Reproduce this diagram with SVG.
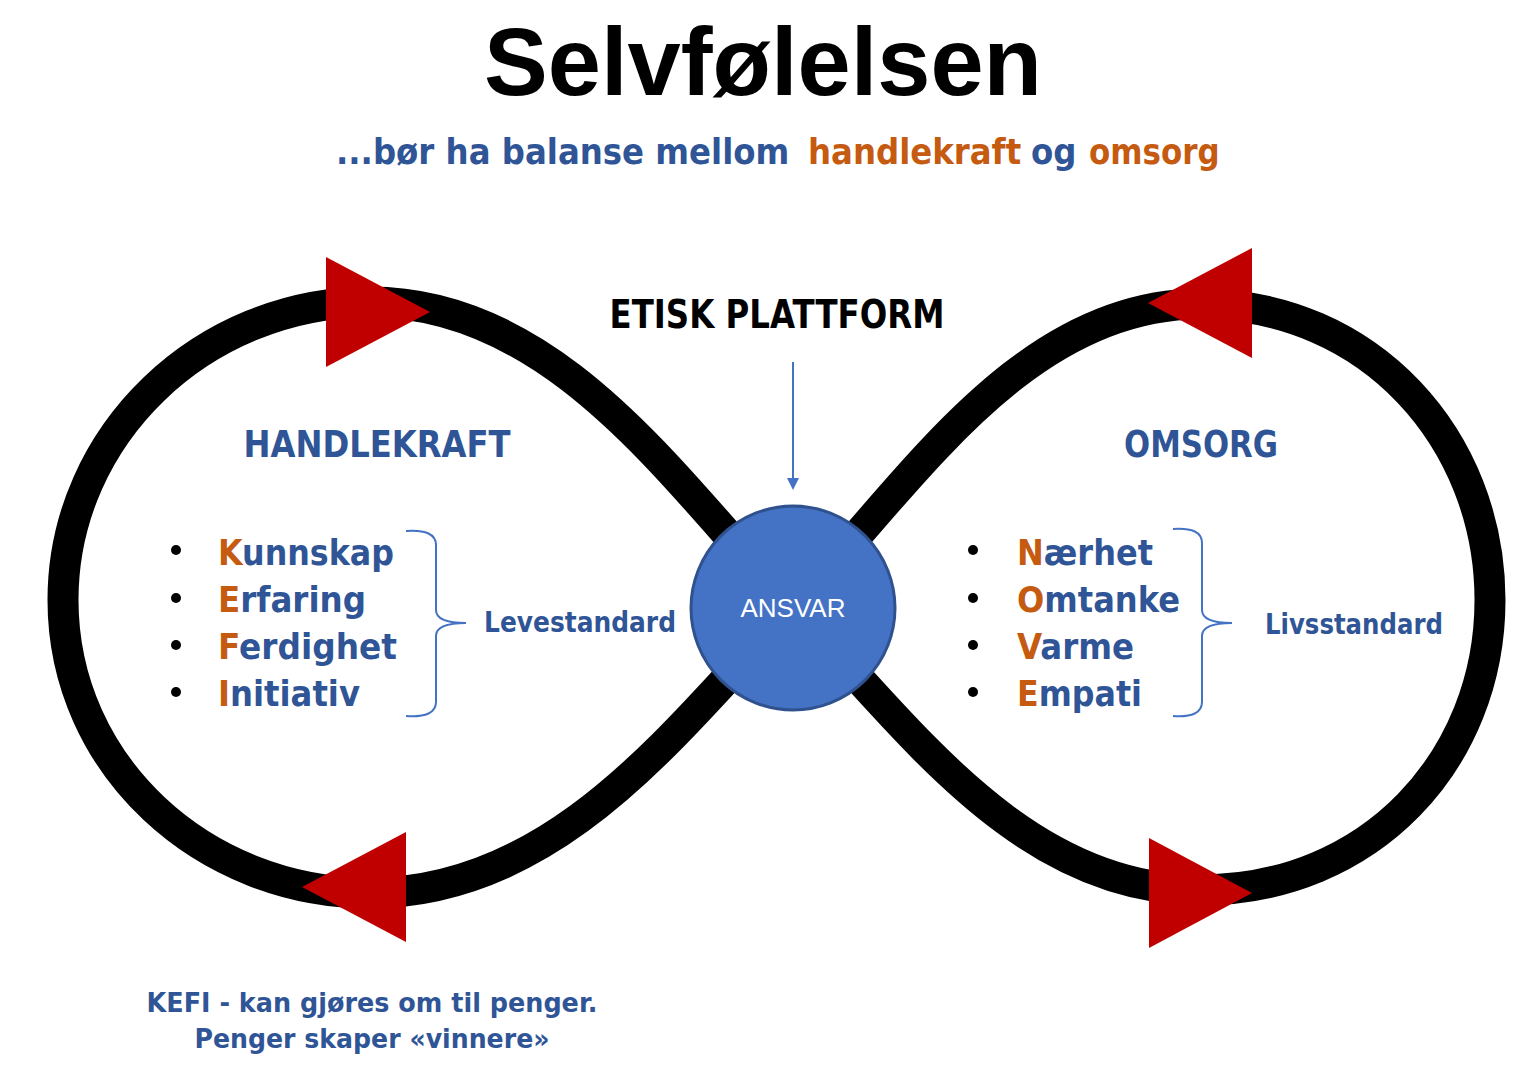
<svg xmlns="http://www.w3.org/2000/svg" width="1526" height="1090" viewBox="0 0 1526 1090">
<defs>
<style>
.tahoma{font-family:"DejaVu Sans","Verdana",sans-serif;font-weight:bold}
.blue{fill:#2F5597}
.orange{fill:#C55A11}
.brace{fill:none;stroke:#4472C4;stroke-width:2}
.loop{fill:none;stroke:#000;stroke-width:31;stroke-linejoin:round}
.tri{fill:#C00000}
.dot{fill:#000}
</style>
<marker id="ah" markerWidth="12" markerHeight="12" refX="10" refY="6" orient="auto" markerUnits="userSpaceOnUse" viewBox="0 0 12 12">
<path d="M0,0 L12,6 L0,12 Z" fill="#4472C4"/>
</marker>
</defs>
<rect width="1526" height="1090" fill="#fff"/>

<g id="title">
<text x="763" y="95" text-anchor="middle" font-family="Liberation Sans, Arial, sans-serif" font-weight="bold" font-size="96" textLength="558" lengthAdjust="spacingAndGlyphs">Selvfølelsen</text>
<text transform="translate(336,164) scale(0.9,1)" class="tahoma blue" font-size="36">...bør ha balanse mellom</text>
<text transform="translate(808,164) scale(0.9,1)" class="tahoma orange" font-size="36">handlekraft</text>
<text transform="translate(1031,164) scale(0.9,1)" class="tahoma blue" font-size="36">og</text>
<text transform="translate(1089,164) scale(0.86,1)" class="tahoma orange" font-size="36">omsorg</text>
</g>

<g id="connectors">
<path id="infinity" class="loop" d="M793,607 C680,490 560,302 370,302 C204,302 63,434 63,600 C63,766 204,893 370,893 C560,893 680,724 793,607 C906,490 1020,304 1200,304 C1370,304 1490,440 1490,600 C1490,760 1370,890 1200,890 C1020,890 906,724 793,607 Z"/>
<line x1="793" y1="362" x2="793" y2="488" stroke="#4472C4" stroke-width="2" marker-end="url(#ah)"/>
<polygon class="tri" points="326,257 326,367 430,312"/>
<polygon class="tri" points="406,832 406,942 302,887"/>
<polygon class="tri" points="1252,248 1252,358 1148,303"/>
<polygon class="tri" points="1149,838 1149,948 1252,893"/>
</g>

<g id="etisk">
<text x="777" y="328" text-anchor="middle" class="tahoma" font-size="39" fill="#000" textLength="335" lengthAdjust="spacingAndGlyphs">ETISK PLATTFORM</text>
</g>

<g id="ansvar">
<circle cx="793" cy="608" r="102" fill="#4472C4" stroke="#2F528F" stroke-width="3"/>
<text x="793" y="617" text-anchor="middle" font-family="Liberation Sans, Arial, sans-serif" font-size="26" fill="#fff">ANSVAR</text>
</g>

<g id="handlekraft">
<text x="377" y="457" text-anchor="middle" class="tahoma blue" font-size="38" textLength="267" lengthAdjust="spacingAndGlyphs">HANDLEKRAFT</text>
<circle class="dot" cx="176" cy="550" r="5"/>
<circle class="dot" cx="176" cy="598" r="5"/>
<circle class="dot" cx="176" cy="645" r="5"/>
<circle class="dot" cx="176" cy="692" r="5"/>
<text x="218" y="565" class="tahoma blue" font-size="35" textLength="176" lengthAdjust="spacingAndGlyphs"><tspan class="orange">K</tspan>unnskap</text>
<text x="218" y="612" class="tahoma blue" font-size="35" textLength="148" lengthAdjust="spacingAndGlyphs"><tspan class="orange">E</tspan>rfaring</text>
<text x="218" y="659" class="tahoma blue" font-size="35" textLength="179" lengthAdjust="spacingAndGlyphs"><tspan class="orange">F</tspan>erdighet</text>
<text x="218" y="706" class="tahoma blue" font-size="35" textLength="142" lengthAdjust="spacingAndGlyphs"><tspan class="orange">I</tspan>nitiativ</text>
<path class="brace" d="M406,531 Q436,529 436,545 L436,610 Q436,623 466,623 Q436,623 436,636 L436,702 Q436,718 406,716"/>
<text x="484" y="632" class="tahoma blue" font-size="28" textLength="192" lengthAdjust="spacingAndGlyphs">Levestandard</text>
</g>

<g id="omsorg">
<text x="1201" y="457" text-anchor="middle" class="tahoma blue" font-size="37" textLength="154" lengthAdjust="spacingAndGlyphs">OMSORG</text>
<circle class="dot" cx="973" cy="550" r="5"/>
<circle class="dot" cx="973" cy="598" r="5"/>
<circle class="dot" cx="973" cy="645" r="5"/>
<circle class="dot" cx="973" cy="692" r="5"/>
<text x="1017" y="565" class="tahoma blue" font-size="35" textLength="136" lengthAdjust="spacingAndGlyphs"><tspan class="orange">N</tspan>ærhet</text>
<text x="1017" y="612" class="tahoma blue" font-size="35" textLength="163" lengthAdjust="spacingAndGlyphs"><tspan class="orange">O</tspan>mtanke</text>
<text x="1017" y="659" class="tahoma blue" font-size="35" textLength="117" lengthAdjust="spacingAndGlyphs"><tspan class="orange">V</tspan>arme</text>
<text x="1017" y="706" class="tahoma blue" font-size="35" textLength="125" lengthAdjust="spacingAndGlyphs"><tspan class="orange">E</tspan>mpati</text>
<path class="brace" d="M1173,529 Q1202,527 1202,543 L1202,610 Q1202,623 1232,623 Q1202,623 1202,636 L1202,702 Q1202,718 1173,716"/>
<text x="1265" y="634" class="tahoma blue" font-size="28" textLength="178" lengthAdjust="spacingAndGlyphs">Livsstandard</text>
</g>

<g id="kefi">
<text x="372" y="1012" text-anchor="middle" class="tahoma blue" font-size="27" textLength="451" lengthAdjust="spacingAndGlyphs">KEFI - kan gjøres om til penger.</text>
<text x="372" y="1048" text-anchor="middle" class="tahoma blue" font-size="27" textLength="355" lengthAdjust="spacingAndGlyphs">Penger skaper «vinnere»</text>
</g>
</svg>
